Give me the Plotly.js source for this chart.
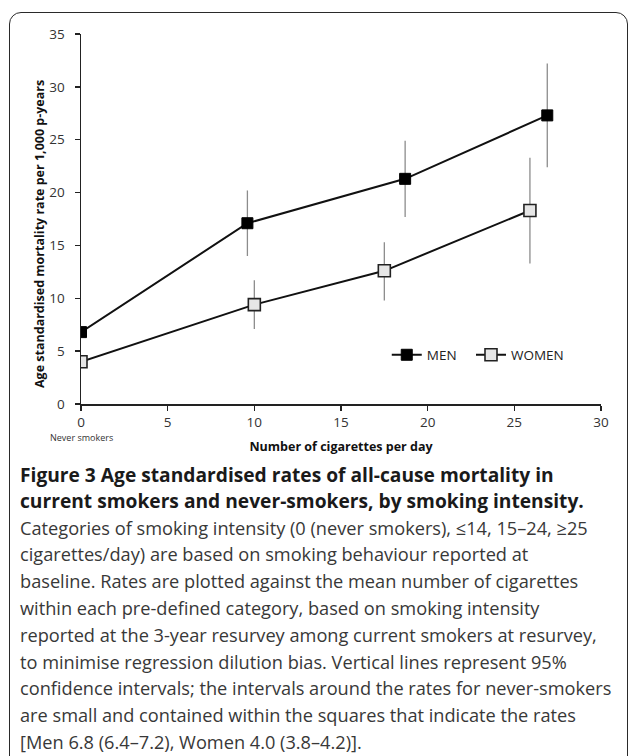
<!DOCTYPE html>
<html>
<head>
<meta charset="utf-8">
<script src="https://cdn.plot.ly/plotly-3.0.1.min.js"></script>
<style>
  html, body { margin: 0; padding: 0; background: #fff; }
  #wrap { position: relative; width: 629px; height: 756px; overflow: hidden; }
  #frame { position: absolute; left: 9px; top: 12px; width: 619px; height: 800px;
           border: 1.6px solid #2a2a2a; border-radius: 12px 12px 0 0; box-sizing: border-box; }
  #chart { position: absolute; left: 0; top: 0; width: 629px; height: 756px; }
</style>
</head>
<body>
<div id="wrap">
  <div id="frame"></div>
  <div id="chart"></div>
</div>
<script>
// ---- data ----
const xMen = [0, 9.6, 18.7, 26.9];
const yMen = [6.8, 17.1, 21.3, 27.3];
const menLo = [6.4, 14.0, 17.7, 22.4];
const menHi = [7.2, 20.2, 24.9, 32.2];

const xWomen = [0, 10.0, 17.5, 25.9];
const yWomen = [4.0, 9.4, 12.6, 18.3];
const womenLo = [3.8, 7.1, 9.8, 13.3];
const womenHi = [4.2, 11.7, 15.3, 23.3];

const xTicks = [0, 5, 10, 15, 20, 25, 30];
const yTicks = [0, 5, 10, 15, 20, 25, 30, 35];

const yTitle = 'Age standardised mortality rate per 1,000 p-years';
const xTitle = 'Number of cigarettes per day';
const xZeroNote = 'Never smokers';

const captionBold = [
  "Figure 3 Age standardised rates of all-cause mortality in",
  "current smokers and never-smokers, by smoking intensity."
];
const captionBody = [
  "Categories of smoking intensity (0 (never smokers), \u226414, 15\u201324, \u226525",
  "cigarettes/day) are based on smoking behaviour reported at",
  "baseline. Rates are plotted against the mean number of cigarettes",
  "within each pre-defined category, based on smoking intensity",
  "reported at the 3-year resurvey among current smokers at resurvey,",
  "to minimise regression dilution bias. Vertical lines represent 95%",
  "confidence intervals; the intervals around the rates for never-smokers",
  "are small and contained within the squares that indicate the rates",
  "[Men 6.8 (6.4\u20137.2), Women 4.0 (3.8\u20134.2)]."
];

// ---- layout geometry ----
const W = 629, H = 756;
const mL = 81, mR = 28, mT = 34, mB = 352;
const plotBottom = H - mB;          // pixel y of the x axis
const plotH = H - mT - mB;

function errs(y, lo, hi) {
  return {
    type: 'data', symmetric: false,
    array: hi.map((h, i) => +(h - y[i]).toFixed(3)),
    arrayminus: lo.map((l, i) => +(y[i] - l).toFixed(3)),
    color: '#8c8c8c', thickness: 1.3, width: 0
  };
}

const traces = [
  {
    x: xMen, y: yMen, name: 'MEN', type: 'scatter', mode: 'lines+markers',
    line: { color: '#111', width: 2 },
    marker: { symbol: 'square', size: 11, color: '#000', line: { color: '#000', width: 1 } },
    error_y: errs(yMen, menLo, menHi),
    legend: 'legend'
  },
  {
    x: xWomen, y: yWomen, name: 'WOMEN', type: 'scatter', mode: 'lines+markers',
    line: { color: '#111', width: 2 },
    marker: { symbol: 'square', size: 12, color: '#e6e6e6', line: { color: '#222', width: 1.6 } },
    error_y: errs(yWomen, womenLo, womenHi),
    legend: 'legend2'
  }
];

const FONT = 'Open Sans, sans-serif';
const annotations = [];
// y-axis title (placed as in the reference, slightly below the plot centre)
annotations.push({
  text: yTitle, xref: 'paper', yref: 'paper', x: 0, y: (plotBottom - 234) / plotH,
  xshift: 39 - mL, xanchor: 'center', yanchor: 'middle', textangle: -90,
  showarrow: false, font: { family: FONT, size: 12.5, color: '#111', weight: 700 }
});
annotations.push({
  text: xZeroNote, xref: 'x', yref: 'paper', x: 0, y: 0,
  yshift: -(437 - plotBottom), xanchor: 'center', yanchor: 'middle',
  showarrow: false, font: { family: FONT, size: 9, color: '#333' }
});
const capStart = 474, capStep = 26.8;
captionBold.forEach((t, i) => annotations.push({
  text: t, xref: 'paper', yref: 'paper', x: 0, y: 0, xanchor: 'left', yanchor: 'middle',
  xshift: 18 - mL, yshift: -(capStart + i * capStep - plotBottom), showarrow: false,
  font: { family: FONT, size: 19.2, color: '#1a1a1a', weight: 700 }
}));
captionBody.forEach((t, i) => annotations.push({
  text: t, xref: 'paper', yref: 'paper', x: 0, y: 0, xanchor: 'left', yanchor: 'middle',
  xshift: 18 - mL, yshift: -(capStart + (i + captionBold.length) * capStep - plotBottom), showarrow: false,
  font: { family: FONT, size: 18.2, color: '#383838' }
}));

const axisCommon = {
  showgrid: false, zeroline: false, showline: true, linecolor: '#222', linewidth: 1.5,
  ticks: 'outside', ticklen: 5, tickwidth: 1.3, tickcolor: '#222',
  tickfont: { family: FONT, size: 13.5, color: '#333' }
};

const legendCommon = {
  orientation: 'h', y: (plotBottom - 355) / plotH,
  xanchor: 'left', yanchor: 'middle', itemwidth: 30,
  font: { family: FONT, size: 13.5, color: '#222' },
  bgcolor: 'rgba(0,0,0,0)'
};

const layout = {
  width: W, height: H,
  margin: { l: mL, r: mR, t: mT, b: mB, autoexpand: false },
  paper_bgcolor: 'rgba(0,0,0,0)', plot_bgcolor: 'rgba(0,0,0,0)',
  showlegend: true,
  legend: Object.assign({}, legendCommon, { x: 0.588 }),
  legend2: Object.assign({}, legendCommon, { x: 0.75 }),
  xaxis: Object.assign({}, axisCommon, {
    range: [0, 30], tickvals: xTicks, ticktext: xTicks.map(String),
    title: { text: xTitle, standoff: 12,
             font: { family: FONT, size: 12.5, color: '#111', weight: 700 } }
  }),
  yaxis: Object.assign({}, axisCommon, {
    range: [0, 35], tickvals: yTicks, ticktext: yTicks.map(String),
    ticklabelstandoff: 7
  }),
  annotations: annotations
};

Plotly.newPlot('chart', traces, layout, { displayModeBar: false, staticPlot: true });
</script>
</body>
</html>
